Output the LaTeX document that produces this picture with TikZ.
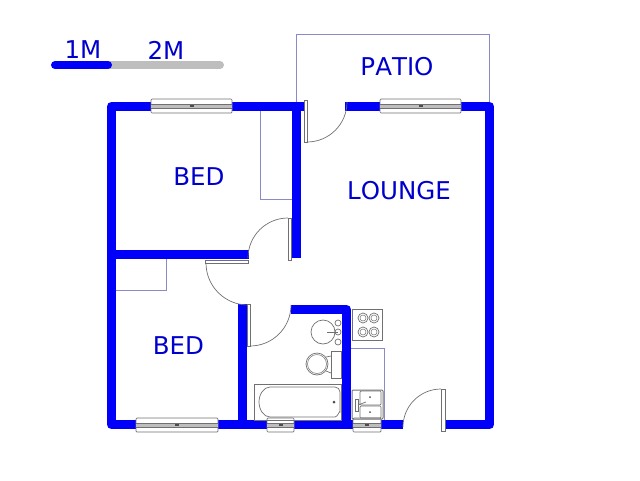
\documentclass[tikz,border=0pt]{standalone}
\usepackage{fontspec}
\setmainfont{DejaVu Sans}[Kerning=Off]
\definecolor{wallblue}{HTML}{0000FA}
\definecolor{textblue}{HTML}{0000CC}
\definecolor{outl}{HTML}{8A8AC8}
\definecolor{fix}{HTML}{707070}
\definecolor{bargray}{HTML}{BEBEBE}
\tikzset{
  wall/.style={draw=wallblue,line width=9pt,line join=round},
  faint/.style={draw=outl,line width=0.8pt},
  label/.style={text=textblue,font=\fontsize{24.5}{24.5}\selectfont,inner sep=0pt},
  leaf/.style={draw=fix,fill=white,line width=0.7pt},
  swing/.style={draw=fix,line width=0.7pt},
  fixture/.style={draw=fix,line width=0.7pt},
  glazing/.style={draw=fix,fill=white,line width=0.7pt,rounded corners=1pt},
}
\newcommand{\winH}[3]{% x1,x2,y top
  \draw[glazing] (#1,#3) rectangle (#2,#3+14);
  \fill[bargray] (#1,#3+5) rectangle (#2,#3+9);
  \draw[fix,line width=0.5pt] (#1,#3+5) -- (#2,#3+5) (#1,#3+9) -- (#2,#3+9);
  \fill[black!70] ({(#1+#2)/2-2},#3+6) rectangle ({(#1+#2)/2+2},#3+8);
}
\begin{document}
\begin{tikzpicture}[x=1pt,y=-1pt]
\useasboundingbox (0,0) rectangle (640,480);
% faint outlines
\draw[faint] (296,103) -- (296,34) -- (489,34) -- (489,103);
\draw[faint] (260,111) -- (260,199) -- (292,199);
\draw[faint] (116,290) -- (166,290) -- (166,259);
\draw[faint] (351,348) -- (384,348) -- (384,420);
% walls
\draw[wall] (304,106.5) -- (111.5,106.5) -- (111.5,424.5) -- (403,424.5);
\draw[wall] (345,106.5) -- (489.5,106.5) -- (489.5,424.5) -- (445,424.5);
\draw[wall] (296.5,106.5) -- (296.5,258);
\draw[wall,line cap=butt] (111.5,254.5) -- (249,254.5);
\draw[wall,line cap=butt] (242,304) -- (242,424.5);
\draw[wall] (291,309.5) -- (346.5,309.5) -- (346.5,424.5);
% windows
\winH{151}{232}{99}
\winH{380}{461}{99}
\winH{136}{218}{418}
\winH{267}{294}{418}
\winH{353}{381}{418}
% doors
\draw[leaf] (304,100) rectangle (307,142);
\draw[swing] (307,142) arc[start angle=90,end angle=0,radius=40];
\draw[leaf] (288,218) rectangle (291,260);
\draw[swing] (288,218) arc[start angle=-90,end angle=-180,radius=40];
\draw[leaf] (205,260) rectangle (248,263);
\draw[swing] (206,263) arc[start angle=180,end angle=90,radius=42];
\draw[leaf] (247,304) rectangle (250,346);
\draw[swing] (250,346) arc[start angle=90,end angle=0,radius=41];
\draw[leaf] (441,389) rectangle (445,431);
\draw[swing] (441,389) arc[start angle=-90,end angle=-180,radius=38];
% stove
\draw[fixture] (352,309) rectangle (382,340);
\foreach \cx/\cy in {363/318,374/318,363/332,374/332}{
  \draw[fixture] (\cx,\cy) circle[radius=5];
  \draw[fixture,line width=0.5pt] (\cx,\cy) circle[radius=3];
}
% kitchen sink
\draw[fixture,rounded corners=1pt,line width=1pt] (352,390) rectangle (383,419);
\draw[fixture,rounded corners=1pt] (360,391) rectangle (381,405);
\draw[fixture,rounded corners=1pt] (360,406) rectangle (381,418);
\draw[fixture] (355,399) rectangle (358,411);
\draw[fixture] (358,405) -- (366,402);
\fill[black!70] (370,397) circle[radius=1] (370,412) circle[radius=1];
% basin
\draw[fixture] (323,332) circle[radius=12];
\foreach \cy in {323,332,342}{
  \draw[fixture] (338,\cy) circle[radius=3];
}
\draw[fixture] (327,332) -- (338,332);
% toilet
\draw[fixture] (331,351) rectangle (341,378);
\draw[fixture] (317,364) circle[radius=11];
\draw[fixture,line width=0.5pt] (317,364) circle[radius=9.5];
\draw[fixture] (326,357) -- (331,356) (326,371) -- (331,373);
% bath
\draw[fixture] (254,384) rectangle (341,420);
\draw[fixture] (270,387) -- (335,387) to[out=0,in=90] (340,392) -- (340,412) to[out=90,in=0] (335,417) -- (270,417)
  .. controls (264,417) and (259,410) .. (259,402) .. controls (259,394) and (264,387) .. (270,387);
\fill[black!70] (334,402) circle[radius=1.5];
% scale bar
\draw[bargray,line width=8pt,line cap=round] (108,65) -- (220,65);
\draw[wallblue,line width=8pt,line cap=round] (55,65) -- (108,65);
% labels
\node[label] (n1m) at (83,50) {1M};
\node[label] (n2m) at (166,50) {2M};
\node[label] (patio) at (397,67) {PATIO};
\node[label] (bed1) at (199,177) {BED};
\node[label] (lounge) at (399,191) {LOUNGE};
\node[label] (bed2) at (178.5,346) {BED};
\end{tikzpicture}
\end{document}
